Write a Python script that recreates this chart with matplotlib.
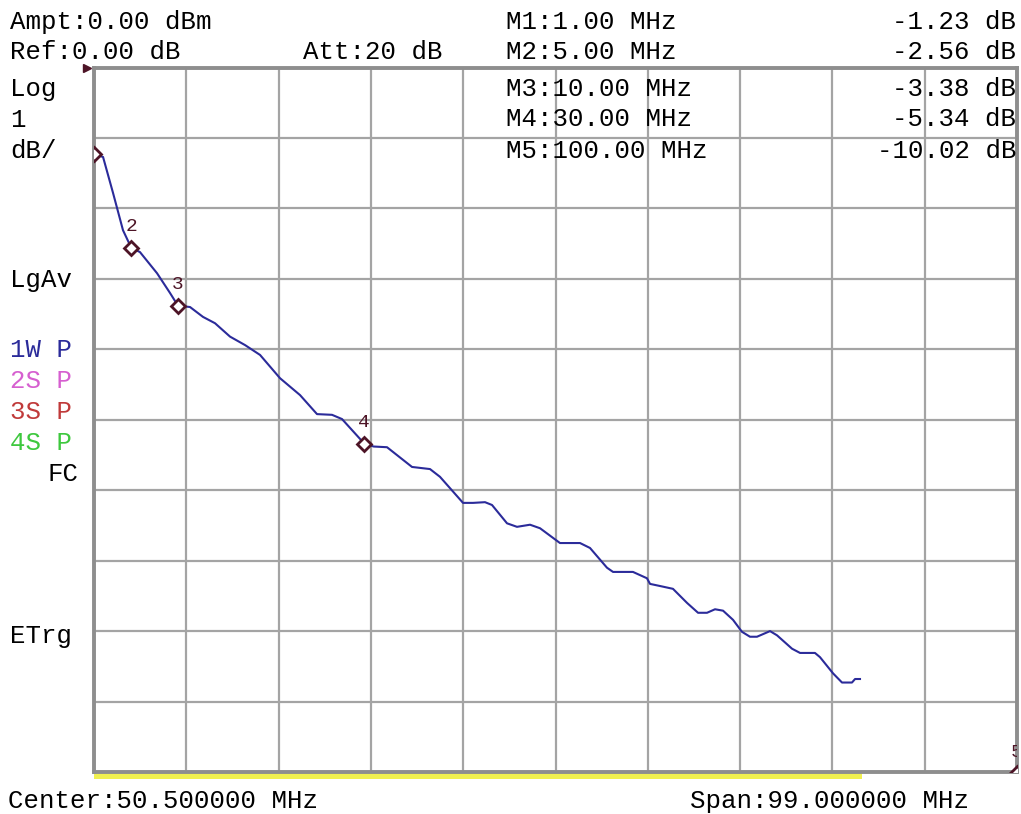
import numpy as np
import matplotlib
matplotlib.use("Agg")
import matplotlib.pyplot as plt

# sweep trace (MHz, dB)
freq = [1.0, 1.97, 3.04, 4.11, 5.0, 5.93, 7.76, 9.15, 10.0, 11.30, 12.69, 13.98,
        15.59, 17.20, 18.81, 20.95, 23.10, 24.92, 26.53, 27.60, 30.0, 31.0, 32.43,
        35.11, 37.04, 38.11, 40.58, 41.65, 42.94, 43.69, 45.30, 46.37, 47.77, 48.84,
        50.98, 53.13, 54.20, 56.02, 56.67, 58.81, 60.31, 60.64, 61.71, 63.10, 64.61,
        65.79, 66.75, 67.61, 68.47, 69.54, 70.50, 71.36, 72.11, 73.51, 74.26, 75.87,
        76.73, 78.33, 78.87, 80.27, 81.23, 82.30, 82.63, 83.16]
level = [-1.23, -1.27, -1.78, -2.31, -2.56, -2.62, -2.92, -3.20, -3.38, -3.40, -3.54, -3.63,
         -3.82, -3.94, -4.08, -4.41, -4.65, -4.92, -4.93, -4.99, -5.34, -5.38, -5.39,
         -5.67, -5.70, -5.81, -6.18, -6.18, -6.17, -6.21, -6.47, -6.52, -6.49, -6.54,
         -6.75, -6.75, -6.82, -7.10, -7.16, -7.16, -7.25, -7.33, -7.36, -7.40, -7.60,
         -7.74, -7.74, -7.69, -7.71, -7.84, -8.01, -8.08, -8.08, -8.00, -8.06, -8.25,
         -8.31, -8.31, -8.37, -8.60, -8.73, -8.73, -8.68, -8.68]

mk_freq = [1.0, 5.0, 10.0, 30.0, 100.0]
mk_level = [-1.23, -2.56, -3.38, -5.34, -10.02]
mk_names = ["M1", "M2", "M3", "M4", "M5"]

center = 50.5
span = 99.0
ref = 0.0
sweep_end = 83.4

f_start = center - span / 2
f_stop = center + span / 2

fig = plt.figure(figsize=(10.21, 8.14), dpi=100)
fig.patch.set_facecolor("white")
ax = fig.add_axes([94/1021, 42/814, 923/1021, 704.5/814])

ax.set_xlim(f_start, f_stop)
ax.set_ylim(ref - 10, ref)
ax.set_xticks(np.linspace(f_start, f_stop, 11))
ax.set_yticks(np.arange(ref - 10, ref + 1, 1))
ax.tick_params(length=0, labelbottom=False, labelleft=False)
ax.grid(True, color="#a4a4a4", lw=1.6)
for s in ax.spines.values():
    s.set_color("#8e8e8e")
    s.set_linewidth(2.8)

ax.plot(freq, level, color="#2b2b9a", lw=1.5, zorder=3)

# markers (number 1 sits off the top of the trace, so it is left out)
mcol = "#4d1426"
ax.plot(mk_freq, mk_level, ls="none", marker="D", ms=7, mfc="white", mec=mcol, mew=2, zorder=4)
for i in range(1, len(mk_freq)):
    ax.annotate(str(i + 1), (mk_freq[i], mk_level[i]), xytext=(0, 9), textcoords="offset points",
                ha="center", va="bottom", color=mcol, fontsize=14, family="Liberation Mono",
                annotation_clip=False, clip_on=True)

# reference level arrow
ax.plot([f_start - 0.7], [ref], marker=">", ms=6, color=mcol, clip_on=False)

# sweep progress bar
ax.fill_between([f_start, sweep_end], ref - 10.1, ref - 10.02, color="#f0f050", lw=0, clip_on=False)

mono = "Liberation Mono"
fs = 18.5
def txt(x, y, s, c="black", ha="left"):
    fig.text(x / 1021, 1 - y / 814, s, ha=ha, va="baseline", color=c, fontsize=fs, family=mono)

txt(10, 29, "Ampt:0.00 dBm")
txt(10, 59, "Ref:%.2f dB" % ref)
txt(303, 59, "Att:20 dB")
txt(10, 96, "Log")
txt(10, 127, "1")
txt(10, 158, "dB/")
txt(10, 287, "LgAv")
txt(10, 357, "1W P", "#2b2b9a")
txt(10, 388, "2S P", "#d65fd0")
txt(10, 419, "3S P", "#c03a3a")
txt(10, 450, "4S P", "#3ec83e")
txt(48, 481, "FC")
txt(10, 643, "ETrg")
txt(8, 808, "Center:%.6f MHz" % center)
txt(690, 808, "Span:%.6f MHz" % span)

rows = [29, 59, 96, 126, 158]
for i in range(len(mk_freq)):
    txt(506, rows[i], "%s:%.2f MHz" % (mk_names[i], mk_freq[i]))
    txt(1016, rows[i], "%.2f dB" % mk_level[i], ha="right")

fig.savefig("out.png", dpi=100)
